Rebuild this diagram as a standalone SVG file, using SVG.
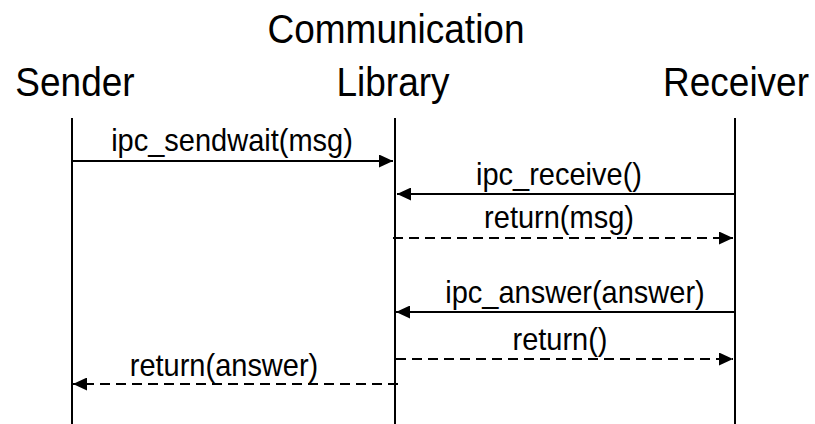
<svg xmlns="http://www.w3.org/2000/svg" width="815" height="424" viewBox="0 0 815 424">
  <style>
    .title { font-family: "Liberation Sans", Arial, sans-serif; font-size: 37px; fill: #000; text-anchor: middle; }
    .label { font-family: "Liberation Sans", Arial, sans-serif; font-size: 29px; fill: #000; text-anchor: middle; }
    .lifeline { stroke: #000; stroke-width: 2; fill: none; }
    .msg { stroke: #000; stroke-width: 2; fill: none; marker-end: url(#arrow); }
    .reply { stroke: #000; stroke-width: 2; fill: none; stroke-dasharray: 10 6; marker-end: url(#arrow); }
  </style>
  <defs>
    <marker id="arrow" markerUnits="userSpaceOnUse" markerWidth="14" markerHeight="13" refX="14" refY="6.5" orient="auto">
      <path d="M0,0 L14,6.5 L0,13 z" fill="#000"/>
    </marker>
  </defs>
  <rect width="815" height="424" fill="#fff"/>

  <!-- participants with their lifelines; titles are set slightly tall -->
  <g id="sender">
    <text class="title" transform="translate(75,96) scale(1,1.08)">Sender</text>
    <line class="lifeline" x1="72" y1="118" x2="72" y2="424"/>
  </g>
  <g id="library">
    <text class="title" transform="translate(396,43) scale(1,1.08)">Communication</text>
    <text class="title" transform="translate(393,96) scale(1,1.08)">Library</text>
    <line class="lifeline" x1="395" y1="118" x2="395" y2="424"/>
  </g>
  <g id="receiver">
    <text class="title" transform="translate(736,96) scale(1,1.08)">Receiver</text>
    <line class="lifeline" x1="735" y1="118" x2="735" y2="424"/>
  </g>

  <!-- messages -->
  <g id="connectors">
    <line class="msg" x1="72" y1="161" x2="393" y2="161"/>
    <line class="msg" x1="735" y1="194" x2="397" y2="194"/>
    <line class="reply" x1="393" y1="238" x2="733" y2="238"/>
    <line class="msg" x1="735" y1="312" x2="396" y2="312"/>
    <line class="reply" x1="396" y1="359" x2="733" y2="359"/>
    <line class="reply" x1="398" y1="384" x2="73" y2="384"/>
  </g>

  <g id="labels">
    <text class="label" transform="translate(232,151) scale(1,1.08)">ipc_sendwait(msg)</text>
    <text class="label" transform="translate(559,185) scale(1,1.08)">ipc_receive()</text>
    <text class="label" transform="translate(559,228) scale(1,1.08)">return(msg)</text>
    <text class="label" transform="translate(575,303) scale(1,1.08)">ipc_answer(answer)</text>
    <text class="label" transform="translate(560,350) scale(1,1.08)">return()</text>
    <text class="label" transform="translate(224,376) scale(1,1.08)">return(answer)</text>
  </g>
</svg>
